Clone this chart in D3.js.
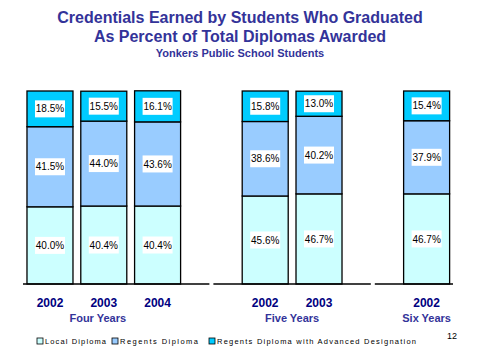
<!DOCTYPE html>
<html><head><meta charset="utf-8">
<script src="https://cdn.jsdelivr.net/npm/d3@7"></script>
<style>body{margin:0;background:#fff}svg{display:block;font-family:"Liberation Sans",Arial,sans-serif}</style>
</head><body><svg id="c" width="480" height="360"></svg>
<script>
const slots = ["4-2002","4-2003","4-2004","gap1","5-2002","5-2003","gap2","6-2002"];
const categories = ["4-2002","4-2003","4-2004","5-2002","5-2003","6-2002"];
const yearLabels = ["2002","2003","2004","2002","2003","2002"];
const groups = ["Four Years","Five Years","Six Years"];
const groupMembers = [["4-2002","4-2003","4-2004"],["5-2002","5-2003"],["6-2002"]];
const seriesNames = ["Local Diploma","Regents Diploma","Regents Diploma with Advanced Designation"];
const localDiploma = [40.0,40.4,40.4,45.6,46.7,46.7];
const regentsDiploma = [41.5,44.0,43.6,38.6,40.2,37.9];
const advancedDiploma = [18.5,15.5,16.1,15.8,13.0,15.4];
const colors = ["#CCFFFF","#99CCFF","#00CCFF"];

const svg = d3.select("#c");
const x = d3.scaleBand().domain(slots).range([23,453.6]).paddingInner(0.145).paddingOuter(0.074);
const y = d3.scaleLinear().domain([0,100]).range([284,91]);

const rows = categories.map((c,i)=>({cat:c, v:[localDiploma[i],regentsDiploma[i],advancedDiploma[i]]}));
const segs = [];
rows.forEach(r=>{let acc=0; r.v.forEach((v,k)=>{segs.push({cat:r.cat,k,y0:acc,y1:acc+v,v}); acc+=v;});});

// title
svg.append("text").attr("x",240).attr("y",23).attr("text-anchor","middle").attr("fill","#333399")
  .attr("font-size",16).attr("font-weight","bold").text("Credentials Earned by Students Who Graduated");
svg.append("text").attr("x",240).attr("y",42).attr("text-anchor","middle").attr("fill","#333399")
  .attr("font-size",16).attr("font-weight","bold").text("As Percent of Total Diplomas Awarded");
svg.append("text").attr("x",240).attr("y",57).attr("text-anchor","middle").attr("fill","#333399")
  .attr("font-size",11).attr("font-weight","bold").text("Yonkers Public School Students");

// bars
svg.append("g").selectAll("rect").data(segs).join("rect")
  .attr("x",d=>x(d.cat)).attr("width",x.bandwidth())
  .attr("y",d=>y(d.y1)).attr("height",d=>y(d.y0)-y(d.y1))
  .attr("fill",d=>colors[d.k]).attr("stroke","#000").attr("stroke-width",1.3);

// labels
const lg = svg.append("g").selectAll("g").data(segs).join("g")
  .attr("transform",d=>`translate(${x(d.cat)+x.bandwidth()/2},${(y(d.y0)+y(d.y1))/2})`);
lg.append("rect").attr("x",-15).attr("y",-8.5).attr("width",30).attr("height",17).attr("fill","#fff");
lg.append("text").attr("text-anchor","middle").attr("dy","0.36em").attr("font-size",10).attr("fill","#000")
  .text(d=>d.v.toFixed(1)+"%");

// baselines (panels split at gap slots)
const bounds = [[23, x("gap1")+x.bandwidth()/2-2],[x("gap1")+x.bandwidth()/2+2, x("gap2")+x.bandwidth()/2-2],[x("gap2")+x.bandwidth()/2+2, 453]];
svg.append("g").selectAll("line").data(bounds).join("line")
  .attr("x1",d=>d[0]).attr("x2",d=>d[1]).attr("y1",y(0)).attr("y2",y(0)).attr("stroke","#000").attr("stroke-width",1.3);

// year labels
svg.append("g").selectAll("text").data(categories).join("text")
  .attr("x",d=>x(d)+x.bandwidth()/2).attr("y",307).attr("text-anchor","middle")
  .attr("font-size",12).attr("font-weight","bold").attr("fill","#000080")
  .text((d,i)=>yearLabels[i]);
// group labels
const gdx = [-6,0,0];
svg.append("g").selectAll("text").data(groups).join("text")
  .attr("x",(d,i)=>d3.mean(groupMembers[i],c=>x(c)+x.bandwidth()/2)+gdx[i]).attr("y",322).attr("text-anchor","middle")
  .attr("font-size",11).attr("font-weight","bold").attr("fill","#333399").text(d=>d);

// legend
const legX = [37,112,209];
const legW = [61,78,199];
const leg = svg.append("g").selectAll("g").data(seriesNames).join("g").attr("transform",(d,i)=>`translate(${legX[i]},341)`);
leg.append("rect").attr("x",0).attr("y",-3).attr("width",6).attr("height",6).attr("fill",(d,i)=>colors[i]).attr("stroke","#000").attr("stroke-width",0.8);
leg.append("text").attr("x",8).attr("dy","0.35em").attr("font-size",7.5).attr("fill","#000")
  .attr("textLength",(d,i)=>legW[i]).attr("lengthAdjust","spacing").text(d=>d);

svg.append("text").attr("x",452).attr("y",339).attr("text-anchor","middle").attr("font-size",9).attr("fill","#000").text("12");
</script></body></html>
